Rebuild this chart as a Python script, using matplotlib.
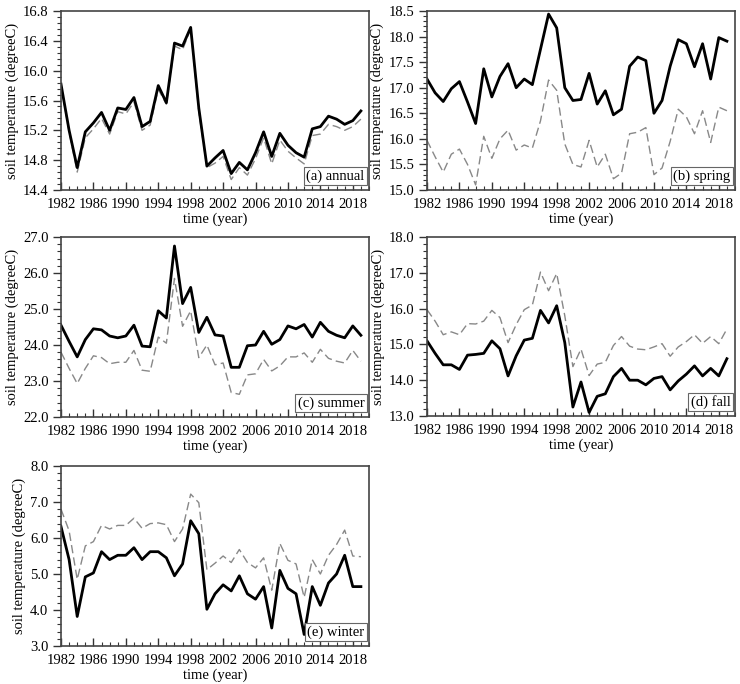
import matplotlib
matplotlib.use('Agg')
import matplotlib.pyplot as plt
from matplotlib.ticker import MultipleLocator, AutoMinorLocator, FixedLocator

plt.rcParams['font.family'] = ['Liberation Serif', 'DejaVu Serif']

years = list(range(1982, 2020))
year_ticks = list(range(1982, 2020, 4))

annual_solid = [15.82, 15.2, 14.7, 15.18, 15.3, 15.44, 15.2, 15.5, 15.48, 15.64,
                15.25, 15.32, 15.8, 15.57, 16.37, 16.33, 16.58, 15.5, 14.72, 14.83,
                14.93, 14.62, 14.77, 14.67, 14.9, 15.18, 14.85, 15.16, 15.0, 14.9,
                14.84, 15.22, 15.25, 15.39, 15.35, 15.28, 15.33, 15.46]
annual_dash = [15.8, 15.18, 14.64, 15.1, 15.22, 15.36, 15.15, 15.45, 15.42, 15.58,
               15.2, 15.27, 15.75, 15.55, 16.33, 16.28, 16.56, 15.45, 14.7, 14.76,
               14.85, 14.54, 14.7, 14.6, 14.82, 15.1, 14.75, 15.07, 14.92, 14.83,
               14.75, 15.13, 15.15, 15.28, 15.25, 15.2, 15.25, 15.35]

spring_solid = [17.17, 16.9, 16.73, 16.98, 17.12, 16.72, 16.3, 17.37, 16.82, 17.22,
                17.47, 17.0, 17.17, 17.06, 17.75, 18.44, 18.17, 17.0, 16.75, 16.77,
                17.28, 16.68, 16.94, 16.47, 16.58, 17.42, 17.6, 17.53, 16.5, 16.75,
                17.42, 17.94, 17.86, 17.41, 17.86, 17.17, 17.98, 17.91]
spring_dash = [15.97, 15.65, 15.35, 15.7, 15.8, 15.5, 15.1, 16.05, 15.62, 16.0,
               16.17, 15.78, 15.88, 15.82, 16.35, 17.15, 16.95, 15.9, 15.5, 15.45,
               15.97, 15.45, 15.7, 15.22, 15.33, 16.1, 16.13, 16.22, 15.3, 15.43,
               15.95, 16.58, 16.43, 16.1, 16.55, 15.93, 16.62, 16.55]

summer_solid = [24.55, 24.1, 23.67, 24.15, 24.45, 24.42, 24.25, 24.2, 24.25, 24.55,
                23.97, 23.95, 24.95, 24.75, 26.75, 25.15, 25.6, 24.35, 24.77, 24.28,
                24.25, 23.38, 23.38, 23.98, 24.0, 24.38, 24.02, 24.15, 24.53, 24.45,
                24.57, 24.22, 24.63, 24.38, 24.27, 24.2, 24.53, 24.27]
summer_dash = [23.8, 23.35, 22.93, 23.35, 23.7, 23.65, 23.48, 23.52, 23.52, 23.85,
               23.3, 23.27, 24.22, 24.05, 25.85, 24.52, 24.95, 23.65, 24.0, 23.45,
               23.5, 22.68, 22.63, 23.17, 23.2, 23.6, 23.28, 23.42, 23.67, 23.67,
               23.78, 23.52, 23.88, 23.63, 23.55, 23.5, 23.85, 23.55]

fall_solid = [15.1, 14.75, 14.43, 14.43, 14.3, 14.7, 14.72, 14.75, 15.1, 14.88,
              14.12, 14.68, 15.12, 15.17, 15.95, 15.6, 16.08, 15.05, 13.25, 13.95,
              13.1, 13.55, 13.62, 14.1, 14.33, 14.0, 14.0, 13.87, 14.05, 14.1,
              13.73, 13.98, 14.17, 14.4, 14.12, 14.33, 14.12, 14.6]
fall_dash = [15.97, 15.65, 15.27, 15.35, 15.27, 15.58, 15.57, 15.65, 15.95, 15.75,
             15.05, 15.55, 15.97, 16.1, 17.02, 16.5, 16.98, 15.8, 14.38, 14.87,
             14.13, 14.45, 14.5, 14.97, 15.22, 14.95, 14.87, 14.85, 14.93, 15.02,
             14.67, 14.93, 15.08, 15.27, 15.03, 15.22, 15.02, 15.43]

winter_solid = [6.32, 5.4, 3.82, 4.92, 5.03, 5.62, 5.4, 5.52, 5.52, 5.73,
                5.4, 5.62, 5.62, 5.45, 4.95, 5.28, 6.48, 6.12, 4.02, 4.45,
                4.7, 4.53, 4.95, 4.45, 4.3, 4.65, 3.5, 5.1, 4.6, 4.45,
                3.32, 4.65, 4.13, 4.75, 5.0, 5.52, 4.65, 4.65]
winter_dash = [6.8, 6.2, 4.85, 5.78, 5.9, 6.35, 6.25, 6.35, 6.35, 6.55,
               6.27, 6.4, 6.42, 6.37, 5.9, 6.25, 7.22, 6.98, 5.12, 5.3,
               5.5, 5.32, 5.68, 5.32, 5.17, 5.45, 4.55, 5.85, 5.38, 5.28,
               4.35, 5.4, 5.0, 5.52, 5.82, 6.22, 5.5, 5.48]

panels = [
    ('(a) annual', annual_solid, annual_dash, (14.4, 16.8), 0.4),
    ('(b) spring', spring_solid, spring_dash, (15.0, 18.5), 0.5),
    ('(c) summer', summer_solid, summer_dash, (22.0, 27.0), 1.0),
    ('(d) fall', fall_solid, fall_dash, (13.0, 18.0), 1.0),
    ('(e) winter', winter_solid, winter_dash, (3.0, 8.0), 1.0),
]

# axes boxes in pixels: left, top, right, bottom
W, H = 740, 684
boxes = [(61, 11, 369, 190), (427, 11, 735, 190),
         (61, 237, 369, 417), (427, 237, 735, 416),
         (61, 466, 369, 646)]

fig = plt.figure(figsize=(W / 100, H / 100), dpi=100)

for (label, solid, dash, ylim, step), (l, t, r, b) in zip(panels, boxes):
    ax = fig.add_axes([l / W, 1 - b / H, (r - l) / W, (b - t) / H])
    ax.plot(years, dash, color='#888888', lw=1.0, ls=(0, (6, 3)))
    ax.plot(years, solid, color='black', lw=2.0)
    ax.set_xlim(1982, 2020)
    ax.set_ylim(*ylim)
    ax.xaxis.set_major_locator(FixedLocator(year_ticks))
    ax.xaxis.set_minor_locator(MultipleLocator(1))
    ax.yaxis.set_major_locator(MultipleLocator(step))
    ax.yaxis.set_minor_locator(AutoMinorLocator(5))
    ax.yaxis.set_major_formatter(plt.FormatStrFormatter('%.1f'))
    ax.tick_params(which='both', top=False, right=False, labelsize=10.5,
                   color='#333333')
    ax.tick_params(axis='x', which='both', direction='in')
    ax.tick_params(axis='y', which='both', direction='out')
    ax.tick_params(which='major', length=6, width=1)
    ax.tick_params(axis='x', which='major', pad=6)
    ax.tick_params(axis='y', which='major', pad=3)
    ax.tick_params(which='minor', length=3, width=0.8)
    for s in ax.spines.values():
        s.set_color('#444444')
        s.set_linewidth(1.2)
    ax.set_xlabel('time (year)', fontsize=10.5, labelpad=1)
    ax.set_ylabel('soil temperature (degreeC)', fontsize=10.5, labelpad=3)
    ax.text(0.985, 0.04, label, transform=ax.transAxes, ha='right', va='bottom',
            fontsize=10.5,
            bbox=dict(boxstyle='square,pad=0.15', fc='white', ec='#666666', lw=0.8))

fig.savefig('out.png', dpi=100)
